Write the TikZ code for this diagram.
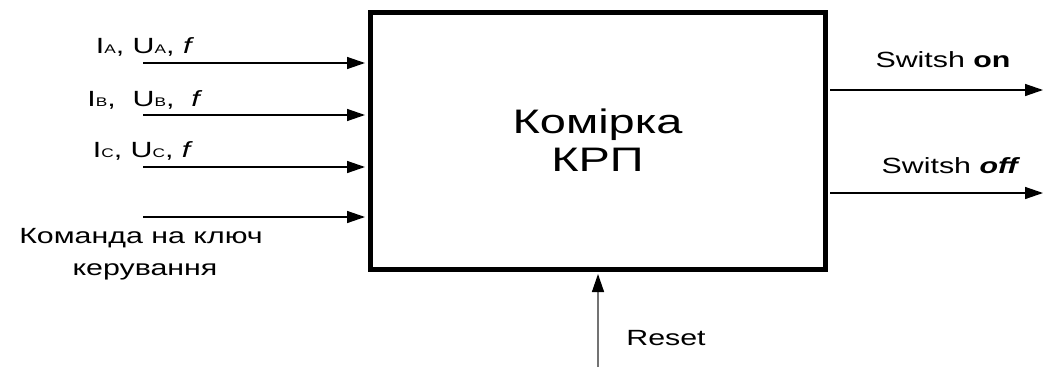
\documentclass[tikz,border=0pt]{standalone}
\usepackage{fontspec}
\usepackage{graphicx}
\setmainfont{Liberation Sans}
\usetikzlibrary{arrows.meta}
\newcommand\wx[1]{\scalebox{1.38}[1]{#1}}
\newcommand\sbs[1]{{\fontsize{12.5}{12.5}\selectfont #1}}
\begin{document}
\begin{tikzpicture}[x=1pt,y=-1pt,
  lbl/.style={font=\fontsize{22}{22}\selectfont, inner sep=0pt, anchor=base},
  sig/.style={line width=1.4pt, -{Triangle[length=18pt,width=12pt]}},
]
\useasboundingbox (0,0) rectangle (1043,367);
\node[draw, line width=5pt, minimum width=455pt, minimum height=257pt, inner sep=0pt,
      font=\fontsize{34}{38}\selectfont, align=center] (box) at (597.5,140.5)
      {\wx{Комірка}\\\wx{КРП}};
% inputs
\coordinate (i1) at (143,63);
\coordinate (i2) at (143,115);
\coordinate (i3) at (143,167);
\coordinate (i4) at (143,217);
\foreach \c in {i1,i2,i3,i4}
  \draw[sig, shorten >=2.5pt] (\c) -- (\c -| box.west);
% outputs
\coordinate (o1) at (1043,90);
\coordinate (o2) at (1043,193);
\draw[sig, shorten <=2.5pt] (o1 -| box.east) -- (o1);
\draw[sig, shorten <=2.5pt] (o2 -| box.east) -- (o2);
% reset
\coordinate (r) at (598,367);
\draw[line width=1.4pt, draw=black!55, -{Triangle[length=18pt,width=12pt,color=black]}, shorten >=2.5pt] (r) -- (r |- box.south);
% labels
\node[lbl] (la) at (145,53) {\wx{I\sbs{A}, U\sbs{A}, \textit{f}}};
\node[lbl] (lb) at (145,106) {\wx{I\sbs{B}, \ U\sbs{B}, \ \textit{f}}};
\node[lbl] (lc) at (143,157) {\wx{I\sbs{C}, U\sbs{C}, \textit{f}}};
\node[lbl] (lk) at (141,243) {\wx{Команда на ключ}};
\node[lbl] (lk2) at (145,275) {\wx{керування}};
\node[lbl] (son) at (943,67) {\wx{Switsh \textbf{on}}};
\node[lbl] (soff) at (951,173) {\wx{Switsh \textbf{\textit{off}}}};
\node[lbl] (rs) at (666,345) {\wx{Reset}};
\end{tikzpicture}
\end{document}
